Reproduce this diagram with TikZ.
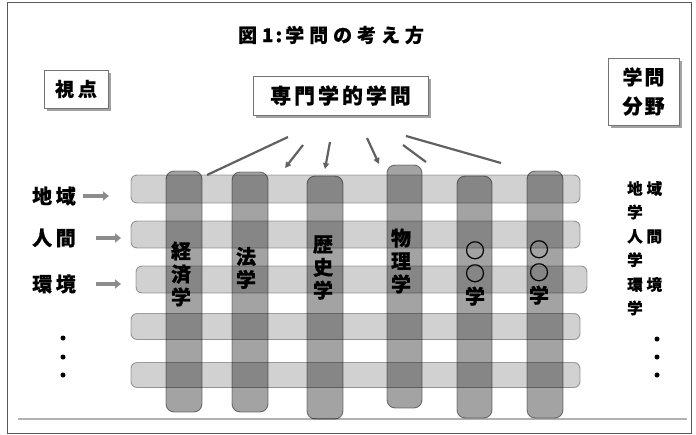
\documentclass[tikz,border=0pt]{standalone}
\usepackage{fontspec}
\newfontfamily\jp{Noto Sans CJK JP}[BoldFeatures={FakeBold=0.5}]
\usetikzlibrary{shadows,arrows.meta}
\begin{document}
\begin{tikzpicture}[x=1pt,y=-1pt,
  every node/.style={font=\jp\bfseries},
  hbar/.style={draw=black, draw opacity=0.35, fill=black, fill opacity=0.18, line width=0.9pt, rounded corners=6pt, inner sep=0pt},
  vbar/.style={draw=black, draw opacity=0.45, fill=black, fill opacity=0.36, line width=0.9pt, rounded corners=8pt, inner sep=0pt, minimum width=36pt},
  tbox/.style={draw=black!55, line width=0.9pt, fill=white, inner sep=0pt, drop shadow={shadow xshift=2.5pt, shadow yshift=-2.5pt, fill=black!45, opacity=0.8}},
  conn/.style={draw=black!62, line width=2.2pt},
  connarr/.style={conn, -{Triangle[length=6pt,width=6pt]}},
  sidearr/.style={draw=black!45, line width=3.4pt, -{Triangle[length=6pt,width=9pt]}},
  vlabel/.style={align=center, inner sep=0pt, font=\jp\bfseries\fontsize{20}{23}\selectfont},
  llabel/.style={inner sep=0pt, font=\jp\bfseries\addfontfeature{LetterSpace=18}\fontsize{20}{24}\selectfont},
  rlabel/.style={align=left, anchor=north west, inner sep=0pt, font=\jp\bfseries\addfontfeature{LetterSpace=25}\fontsize{15.5}{23.5}\selectfont},
  dot/.style={circle, fill=black, inner sep=0pt, minimum size=5pt}
]
\useasboundingbox (0,0) rectangle (696,434);
% frame
\draw[black!65, line width=1pt] (7,2) rectangle (691,433);
% separator
\draw[black!30, line width=2pt] (18,419) -- (687,419);

% title
\node[font=\jp\bfseries\addfontfeature{LetterSpace=26}\fontsize{19}{21}\selectfont] (title) at (331,35) {図1\hspace{2pt}:\hspace{3pt}学問の考え方};

% boxes
\node[tbox, minimum width=64pt, minimum height=38pt, font=\jp\bfseries\addfontfeature{LetterSpace=20}\fontsize{19}{22}\selectfont] (viewpoint) at (76,89) {視点};
\node[tbox, minimum width=175pt, minimum height=39pt, font=\jp\bfseries\addfontfeature{LetterSpace=14}\fontsize{21}{24}\selectfont] (spec) at (340.5,95.5) {専門学的学問};
\node[tbox, minimum width=71pt, minimum height=67pt, align=center, font=\jp\bfseries\addfontfeature{LetterSpace=10}\fontsize{20}{29}\selectfont] (field) at (643.5,91.5) {学問\\分野};

% horizontal bars
\node[hbar, minimum width=449pt, minimum height=28pt] (r1) at (355.5,189) {};
\node[hbar, minimum width=449pt, minimum height=27pt] (r2) at (355.5,234.5) {};
\node[hbar, minimum width=451pt, minimum height=27pt] (r3) at (361.5,279.5) {};
\node[hbar, minimum width=449pt, minimum height=26pt] (r4) at (355.5,326.5) {};
\node[hbar, minimum width=449pt, minimum height=25pt] (r5) at (355.5,375) {};

% vertical bars
\node[vbar, minimum height=241pt] (v1) at (184,291.5) {};
\node[vbar, minimum height=240pt] (v2) at (250,292) {};
\node[vbar, minimum height=243pt] (v3) at (325,297.5) {};
\node[vbar, minimum height=243pt, minimum width=35pt] (v4) at (404.5,286.5) {};
\node[vbar, minimum height=242pt, minimum width=35pt] (v5) at (474.5,297) {};
\node[vbar, minimum height=247pt] (v6) at (545,294.5) {};

% vertical labels
\node[vlabel] (l1) at (181,274) {経\\済\\学};
\node[vlabel] (l2) at (246,268) {法\\学};
\node[vlabel] (l3) at (323,267.5) {歴\\史\\学};
\node[vlabel] (l4) at (401,261) {物\\理\\学};
\node[vlabel] (l5) at (475,273.5) {○\\○\\学};
\node[vlabel] (l6) at (539,272.5) {○\\○\\学};

% connectors from spec
\coordinate (s1) at (288,137); \coordinate (e1) at (207,175);
\coordinate (s2) at (303,145); \coordinate (e2) at (285,168);
\coordinate (s3) at (330,142); \coordinate (e3) at (325,169);
\coordinate (s4) at (367,138); \coordinate (e4) at (379,164);
\coordinate (s5) at (403,145); \coordinate (e5) at (426,162);
\coordinate (s6) at (406,136); \coordinate (e6) at (501,163);
\draw[conn] (s1) -- (e1);
\draw[connarr] (s2) -- (e2);
\draw[connarr] (s3) -- (e3);
\draw[connarr] (s4) -- (e4);
\draw[conn] (s5) -- (e5);
\draw[conn] (s6) -- (e6);

% left labels
\node[llabel] (area) at (54,196) {地域};
\node[llabel] (human) at (54,238) {人間};
\node[llabel] (env) at (54,284) {環境};
\coordinate (a1) at (83,196); \coordinate (b1) at (109,196);
\coordinate (a2) at (96,238); \coordinate (b2) at (121,238);
\coordinate (a3) at (96,284); \coordinate (b3) at (121,284);
\draw[sidearr] (a1) -- (b1);
\draw[sidearr] (a2) -- (b2);
\draw[sidearr] (a3) -- (b3);
\node[dot] (ld1) at (63,338) {};
\node[dot] (ld2) at (63,357) {};
\node[dot] (ld3) at (63,375) {};

% right labels
\node[rlabel] (rarea) at (627,181) {地域\\学};
\node[rlabel] (rhuman) at (627,229) {人間\\学};
\node[rlabel] (renv) at (627,277) {環境\\学};
\node[dot] (rd1) at (657,339) {};
\node[dot] (rd2) at (657,357) {};
\node[dot] (rd3) at (657,375) {};
\end{tikzpicture}
\end{document}
